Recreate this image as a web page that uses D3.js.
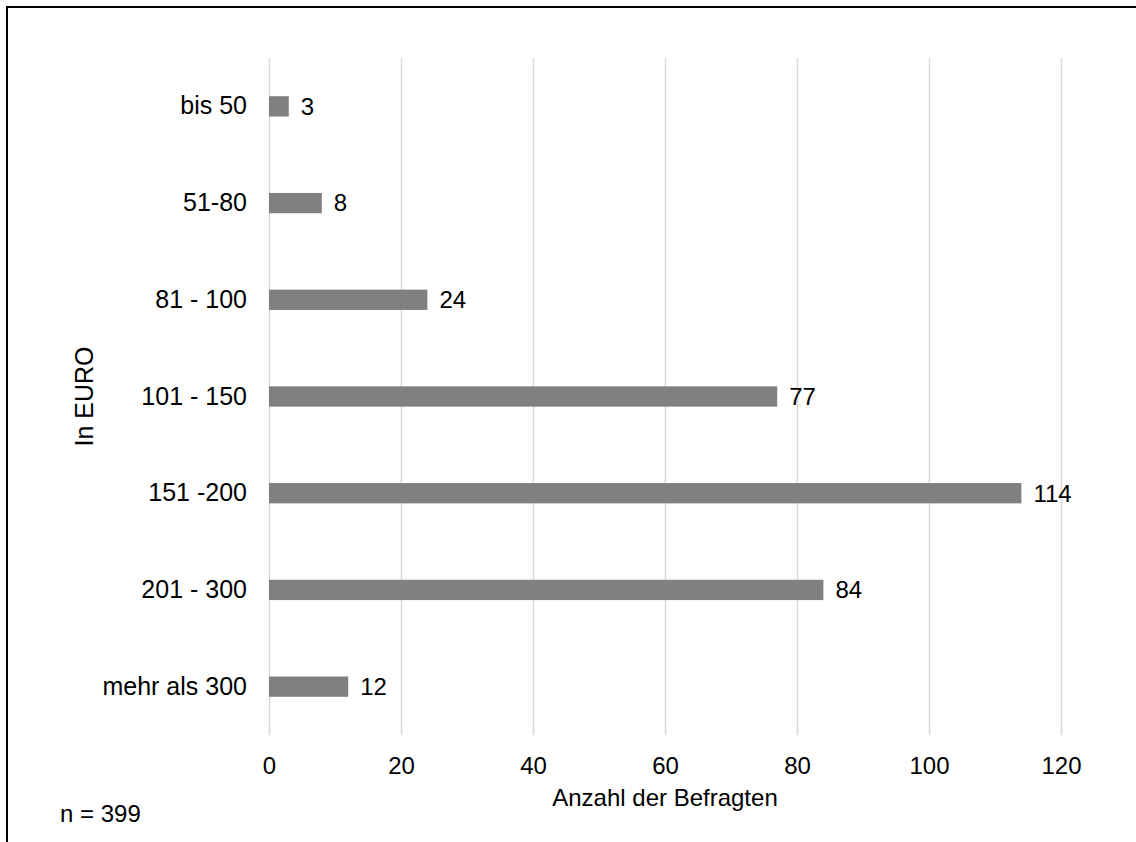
<!DOCTYPE html>
<html>
<head>
<meta charset="utf-8">
<script src="https://cdn.jsdelivr.net/npm/d3@7"></script>
<style>
  html, body { margin: 0; padding: 0; background: #fff; }
  svg { display: block; font-family: "Liberation Sans", Arial, sans-serif; }
</style>
</head>
<body>
<svg id="chart" width="1136" height="842"></svg>
<script>
// Monthly spending brackets (EUR) and number of respondents per bracket
const categories = ["bis 50", "51-80", "81 - 100", "101 - 150", "151 -200", "201 - 300", "mehr als 300"];
const counts = [3, 8, 24, 77, 114, 84, 12];
const xTicks = [0, 20, 40, 60, 80, 100, 120];
const xTitle = "Anzahl der Befragten";
const yTitle = "In EURO";
const note = "n = 399";

const svg = d3.select("#chart");
const W = 1136, H = 842;
const plot = { left: 269, right: 1061, top: 58, bottom: 735 };

svg.append("rect").attr("width", W).attr("height", H).attr("fill", "#fff");

// frame along top and left edges
svg.append("path")
  .attr("d", `M7,${H} L7,7 L${W},7`)
  .attr("fill", "none")
  .attr("stroke", "#000")
  .attr("stroke-width", 2);

const x = d3.scaleLinear().domain([0, 120]).range([plot.left, plot.right]);
const y = d3.scaleBand().domain(categories).range([plot.top, plot.bottom])
  .paddingInner(0.79).paddingOuter(0.395);

// vertical gridlines + tick labels
const xAxis = svg.append("g")
  .attr("transform", `translate(0,${plot.bottom})`)
  .call(d3.axisBottom(x).tickValues(xTicks).tickSize(-(plot.bottom - plot.top)).tickPadding(22));
xAxis.select(".domain").remove();
xAxis.selectAll(".tick line").attr("stroke", "#d9d9d9").attr("stroke-width", 1.5);
xAxis.selectAll(".tick text")
  .attr("fill", "#000").attr("font-size", 24).attr("font-family", "Liberation Sans, Arial, sans-serif");

// category labels
const yAxis = svg.append("g")
  .attr("transform", `translate(${plot.left},0)`)
  .call(d3.axisLeft(y).tickSize(0).tickPadding(22));
yAxis.select(".domain").remove();
yAxis.selectAll(".tick text")
  .attr("fill", "#000").attr("font-size", 25).attr("font-family", "Liberation Sans, Arial, sans-serif");

// bars
svg.append("g").selectAll("rect")
  .data(categories)
  .join("rect")
  .attr("x", x(0))
  .attr("y", d => y(d))
  .attr("width", (d, i) => x(counts[i]) - x(0))
  .attr("height", y.bandwidth())
  .attr("fill", "#808080");

// value labels
svg.append("g").selectAll("text")
  .data(categories)
  .join("text")
  .attr("x", (d, i) => x(counts[i]) + 12)
  .attr("y", d => y(d) + y.bandwidth() / 2)
  .attr("dy", "0.35em")
  .attr("font-size", 24)
  .attr("fill", "#000")
  .text((d, i) => counts[i]);

// axis titles
svg.append("text")
  .attr("x", (plot.left + plot.right) / 2)
  .attr("y", 806)
  .attr("text-anchor", "middle")
  .attr("font-size", 24)
  .attr("fill", "#000")
  .text(xTitle);

svg.append("text")
  .attr("transform", `translate(93,${(plot.top + plot.bottom) / 2}) rotate(-90)`)
  .attr("text-anchor", "middle")
  .attr("font-size", 25)
  .attr("fill", "#000")
  .text(yTitle);

svg.append("text")
  .attr("x", 60)
  .attr("y", 822)
  .attr("font-size", 24)
  .attr("fill", "#000")
  .text(note);
</script>
</body>
</html>
